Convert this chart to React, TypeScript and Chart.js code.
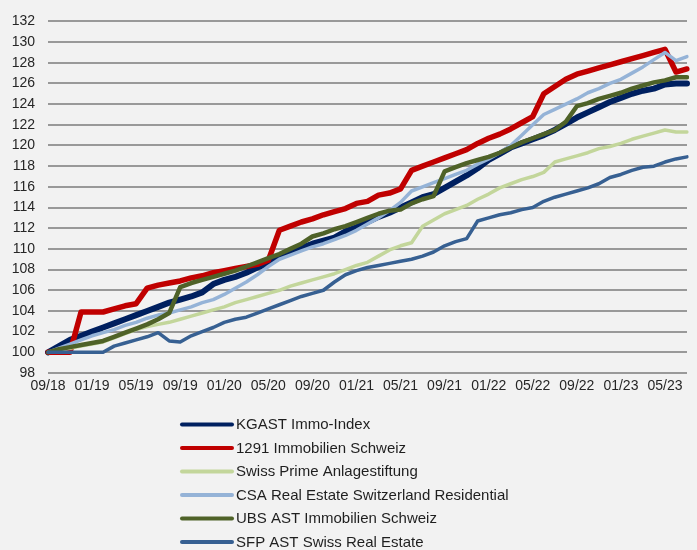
import React, { useEffect, useRef } from 'react';
import { Chart, registerables } from 'chart.js';

Chart.register(...registerables);

// Monthly categories, 09/18 .. 07/23
const MONTHS = [
  '09/18', '10/18', '11/18', '12/18',
  '01/19', '02/19', '03/19', '04/19', '05/19', '06/19', '07/19', '08/19', '09/19', '10/19', '11/19', '12/19',
  '01/20', '02/20', '03/20', '04/20', '05/20', '06/20', '07/20', '08/20', '09/20', '10/20', '11/20', '12/20',
  '01/21', '02/21', '03/21', '04/21', '05/21', '06/21', '07/21', '08/21', '09/21', '10/21', '11/21', '12/21',
  '01/22', '02/22', '03/22', '04/22', '05/22', '06/22', '07/22', '08/22', '09/22', '10/22', '11/22', '12/22',
  '01/23', '02/23', '03/23', '04/23', '05/23', '06/23', '07/23',
];

const X_TICK_LABELS = ['09/18', '01/19', '05/19', '09/19', '01/20', '05/20', '09/20', '01/21', '05/21', '09/21', '01/22', '05/22', '09/22', '01/23', '05/23'];
const X_TICK_EVERY = 4;

const Y_MIN = 98;
const Y_MAX = 132;
const Y_STEP = 2;

const SERIES_NAMES = [
  'KGAST Immo-Index',
  '1291 Immobilien Schweiz',
  'Swiss Prime Anlagestiftung',
  'CSA Real Estate Switzerland Residential',
  'UBS AST Immobilien Schweiz',
  'SFP AST Swiss Real Estate',
];

const KGAST = [
  100, 100.6, 101.2, 101.6, 102.0, 102.4, 102.8, 103.2, 103.6, 104.0, 104.4, 104.8, 105.1, 105.4, 105.8, 106.6,
  107.0, 107.3, 107.7, 108.2, 108.6, 109.2, 109.7, 110.1, 110.5, 110.8, 111.1, 111.7, 112.1, 112.6, 113.1, 113.5,
  114.0, 114.5, 115.0, 115.3, 115.9, 116.5, 117.1, 117.8, 118.6, 119.2, 119.8, 120.2, 120.6, 121.0, 121.5, 122.1,
  122.7, 123.2, 123.7, 124.2, 124.6, 125.0, 125.3, 125.5, 125.9, 126.0, 126.0,
];

const IMMO_1291 = [
  100, 100, 100, 103.9, 103.9, 103.9, 104.2, 104.5, 104.7, 106.2, 106.5, 106.7, 106.9, 107.2, 107.4, 107.7,
  107.9, 108.1, 108.3, 108.5, 108.9, 111.8, 112.2, 112.6, 112.9, 113.3, 113.6, 113.9, 114.4, 114.6, 115.2, 115.4,
  115.8, 117.6, 118.0, 118.4, 118.8, 119.2, 119.6, 120.2, 120.7, 121.1, 121.6, 122.2, 122.8, 125.0, 125.7, 126.4,
  126.9, 127.2, 127.5, 127.8, 128.1, 128.4, 128.7, 129.0, 129.3, 127.1, 127.4,
];

const SWISS_PRIME = [
  100, 100.2, 100.4, 100.6, 100.8, 101.0, 101.4, 101.8, 102.2, 102.5, 102.7, 102.9, 103.2, 103.5, 103.8, 104.1,
  104.4, 104.8, 105.1, 105.4, 105.7, 106.0, 106.4, 106.7, 107.0, 107.3, 107.6, 108.0, 108.4, 108.7, 109.3, 109.9,
  110.3, 110.6, 112.2, 112.8, 113.4, 113.8, 114.2, 114.8, 115.3, 115.9, 116.3, 116.7, 117.0, 117.4, 118.4, 118.7,
  119.0, 119.3, 119.7, 119.9, 120.2, 120.6, 120.9, 121.2, 121.5, 121.3, 121.3,
];

const CSA_RESIDENTIAL = [
  100, 100.4, 100.8, 101.2, 101.6, 101.9, 102.2, 102.6, 102.9, 103.3, 103.6, 103.8, 104.1, 104.4, 104.8, 105.1,
  105.6, 106.2, 106.8, 107.5, 108.3, 109.0, 109.4, 109.8, 110.2, 110.5, 110.9, 111.3, 111.8, 112.4, 113.0, 113.7,
  114.5, 115.6, 116.0, 116.4, 116.8, 117.2, 117.6, 118.2, 118.7, 119.3, 120.0, 121.0, 122.0, 123.0, 123.5, 124.0,
  124.5, 125.1, 125.5, 126.0, 126.4, 127.0, 127.6, 128.3, 129.0, 128.2, 128.6,
];

const UBS_AST = [
  100, 100.3, 100.5, 100.7, 100.9, 101.1, 101.5, 101.9, 102.3, 102.7, 103.2, 103.8, 106.3, 106.7, 107.0, 107.3,
  107.6, 107.9, 108.3, 108.7, 109.1, 109.5, 110.0, 110.5, 111.2, 111.5, 111.9, 112.2, 112.6, 113.0, 113.4, 113.7,
  113.8, 114.4, 114.8, 115.1, 117.5, 117.9, 118.3, 118.6, 118.9, 119.3, 119.8, 120.3, 120.7, 121.1, 121.5, 122.3,
  123.8, 124.1, 124.5, 124.8, 125.1, 125.5, 125.8, 126.1, 126.3, 126.6, 126.6,
];

const SFP_AST = [
  100, 100, 100, 100, 100, 100, 100.6, 100.9, 101.2, 101.5, 101.9, 101.1, 101.0, 101.6, 102.0, 102.4,
  102.9, 103.2, 103.4, 103.8, 104.2, 104.6, 105.0, 105.4, 105.7, 106.0, 106.8, 107.5, 107.9, 108.2, 108.4, 108.6,
  108.8, 109.0, 109.3, 109.7, 110.3, 110.7, 111.0, 112.7, 113.0, 113.3, 113.5, 113.8, 114.0, 114.6, 115.0, 115.3,
  115.6, 115.9, 116.3, 116.9, 117.2, 117.6, 117.9, 118.0, 118.4, 118.7, 118.9,
];

const SERIES_VALUES = [KGAST, IMMO_1291, SWISS_PRIME, CSA_RESIDENTIAL, UBS_AST, SFP_AST];
const SERIES_COLORS = ['#002060', '#C00000', '#C3D69B', '#95B3D7', '#4F6228', '#376092'];
const SERIES_WIDTHS = [6, 5.5, 3.5, 3.5, 4.5, 3.5];

const FONT_FAMILY = '"Liberation Sans", Arial, Helvetica, sans-serif';

const columnLegend = {
  id: 'columnLegend',
  afterDraw(chart: any) {
    const ctx = chart.ctx;
    ctx.save();
    ctx.font = `15px ${FONT_FAMILY}`;
    ctx.textBaseline = 'middle';
    ctx.textAlign = 'left';
    const x0 = 182;
    const x1 = 232;
    const tx = 236;
    const y0 = 424.5;
    const dy = 23.5;
    chart.data.datasets.forEach((ds: any, i: number) => {
      const y = y0 + i * dy;
      ctx.beginPath();
      ctx.lineCap = 'round';
      ctx.lineWidth = 4;
      ctx.strokeStyle = ds.borderColor;
      ctx.moveTo(x0, y);
      ctx.lineTo(x1, y);
      ctx.stroke();
      ctx.fillStyle = '#1f1f1f';
      ctx.fillText(ds.label, tx, y + 0.5);
    });
    ctx.restore();
  },
};

export default function App() {
  const canvasRef = useRef<HTMLCanvasElement | null>(null);

  useEffect(() => {
    if (!canvasRef.current) return;
    const datasets = SERIES_NAMES.map((name, i) => ({
      label: name,
      data: SERIES_VALUES[i],
      borderColor: SERIES_COLORS[i],
      backgroundColor: SERIES_COLORS[i],
      borderWidth: SERIES_WIDTHS[i],
      pointRadius: 0,
      pointHoverRadius: 0,
      tension: 0,
      fill: false,
      borderJoinStyle: 'round' as const,
      borderCapStyle: 'round' as const,
      order: SERIES_NAMES.length - i,
    }));

    const chart = new Chart(canvasRef.current, {
      type: 'line',
      data: { labels: MONTHS, datasets },
      plugins: [columnLegend],
      options: {
        responsive: false,
        animation: false,
        events: [],
        layout: { padding: { top: 17, right: 10, left: 0, bottom: 0 } },
        plugins: {
          legend: { display: false },
          tooltip: { enabled: false },
        },
        scales: {
          x: {
            type: 'category',
            offset: false,
            grid: { display: false, drawTicks: false },
            border: { display: false },
            afterFit: (scale: any) => {
              scale.height = 177;
            },
            ticks: {
              autoSkip: false,
              maxRotation: 0,
              minRotation: 0,
              padding: 5,
              color: '#262626',
              font: { family: FONT_FAMILY, size: 14 },
              callback: (_v: any, index: number) =>
                index % X_TICK_EVERY === 0 ? X_TICK_LABELS[index / X_TICK_EVERY] ?? '' : '',
            },
          },
          y: {
            min: Y_MIN,
            max: Y_MAX,
            afterFit: (scale: any) => {
              scale.width = 48;
            },
            grid: { color: '#999999', lineWidth: 2, drawTicks: false },
            border: { display: false },
            ticks: {
              stepSize: Y_STEP,
              padding: 13,
              color: '#262626',
              font: { family: FONT_FAMILY, size: 14 },
            },
          },
        },
      },
    });
    return () => chart.destroy();
  }, []);

  return (
    <div
      style={{
        position: 'fixed',
        left: 0,
        top: 0,
        width: 697,
        height: 550,
        background: '#F2F2F2',
        overflow: 'hidden',
      }}
    >
      <canvas ref={canvasRef} width={697} height={550} style={{ display: 'block' }} />
    </div>
  );
}
